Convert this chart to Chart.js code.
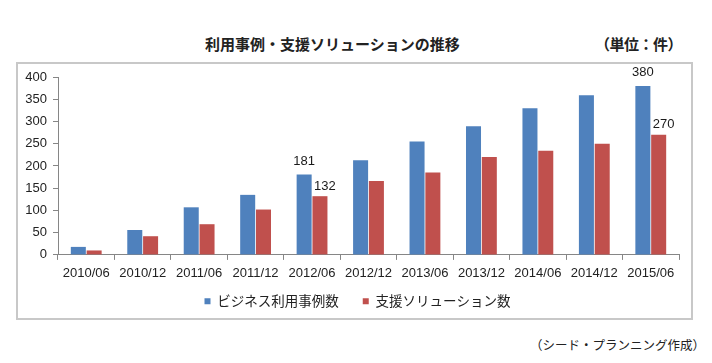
<!DOCTYPE html>
<html>
<head>
<meta charset="utf-8">
<script src="https://cdn.jsdelivr.net/npm/chart.js@4/dist/chart.umd.min.js"></script>
<style>
html,body{margin:0;padding:0;background:#fff;}
body{width:712px;height:363px;position:relative;overflow:hidden;font-family:"Noto Sans CJK JP","Noto Sans",sans-serif;color:#222;}
#box{position:absolute;left:16px;top:62px;width:677px;height:258px;border:2px solid #c8c8c8;box-sizing:border-box;background:#fff;}
#wrap{position:absolute;left:0;top:0;width:712px;height:363px;}
.t{position:absolute;white-space:nowrap;line-height:1;}
#title{left:205px;top:36px;font-size:15px;font-weight:bold;}
#unit{left:595px;top:36px;font-size:15px;font-weight:bold;letter-spacing:-0.5px;}
#foot{right:7px;top:339px;font-size:12.5px;}
</style>
</head>
<body>
<div id="box"></div>
<div class="t" id="title">利用事例・支援ソリューションの推移</div>
<div class="t" id="unit">（単位：件）</div>
<div class="t" id="foot">（シード・プランニング作成）</div>
<div id="wrap"><canvas id="c" width="712" height="363"></canvas></div>
<script>
const categories = ["2010/06","2010/12","2011/06","2011/12","2012/06","2012/12","2013/06","2013/12","2014/06","2014/12","2015/06"];
const seriesNames = ["ビジネス利用事例数","支援ソリューション数"];
const businessCases = [18, 56, 107, 135, 181, 213, 255, 289, 330, 359, 380];
const supportSolutions = [10, 42, 69, 102, 132, 166, 185, 220, 234, 250, 270];
const labeledIndices = [4, 10];
const yTicks = [0, 50, 100, 150, 200, 250, 300, 350, 400];

const axisColor = '#868686';
const labelPlugin = {
  id: 'valueLabels',
  afterLayout(chart) {
    const lg = chart.legend;
    if (lg) { lg.left += 18; lg.right += 18; lg.top -= 17; lg.bottom -= 17; }
  },
  afterDatasetsDraw(chart) {
    const ctx = chart.ctx;
    ctx.save();
    ctx.font = '13px "Liberation Sans", Arial, sans-serif';
    ctx.fillStyle = '#1a1a1a';
    ctx.textAlign = 'center';
    ctx.textBaseline = 'middle';
    const offs = [{dx: 0, dy: 13}, {dx: 5, dy: 10}];
    chart.data.datasets.forEach((ds, di) => {
      const meta = chart.getDatasetMeta(di);
      labeledIndices.forEach(i => {
        const el = meta.data[i];
        ctx.fillText(String(ds.data[i]), el.x + offs[di].dx, el.y - offs[di].dy);
      });
    });
    ctx.restore();
  }
};

new Chart(document.getElementById('c'), {
  type: 'bar',
  data: {
    labels: categories,
    datasets: [
      {label: seriesNames[0], data: businessCases, backgroundColor: '#4F81BD', categoryPercentage: 0.56, barPercentage: 0.95},
      {label: seriesNames[1], data: supportSolutions, backgroundColor: '#C0504D', categoryPercentage: 0.56, barPercentage: 0.95}
    ]
  },
  options: {
    responsive: false,
    animation: false,
    layout: {padding: {left: 0, right: 33, top: 77, bottom: 28}},
    plugins: {
      title: {display: false},
      tooltip: {enabled: false},
      legend: {
        display: true,
        position: 'bottom',
        labels: {
          boxWidth: 6, boxHeight: 6, padding: 24,
          color: '#222',
          font: {family: '"Noto Sans CJK JP", sans-serif', size: 13.5}
        }
      }
    },
    scales: {
      x: {
        grid: {display: true, drawOnChartArea: false, drawTicks: true, tickLength: 5, color: axisColor, offset: true},
        border: {display: true, color: axisColor, width: 1},
        ticks: {color: '#222', padding: 6, maxRotation: 0, autoSkip: false, font: {family: '"Liberation Sans", Arial, sans-serif', size: 13}}
      },
      y: {
        min: 0, max: 400,
        afterFit(scale) { scale.width = 58; },
        afterBuildTicks(scale) { scale.ticks = yTicks.map(v => ({value: v})); },
        grid: {display: true, drawOnChartArea: false, drawTicks: true, tickLength: 5, color: axisColor},
        border: {display: true, color: axisColor, width: 1},
        ticks: {color: '#222', padding: 6, font: {family: '"Liberation Sans", Arial, sans-serif', size: 13}}
      }
    }
  },
  plugins: [labelPlugin]
});
</script>
</body>
</html>
